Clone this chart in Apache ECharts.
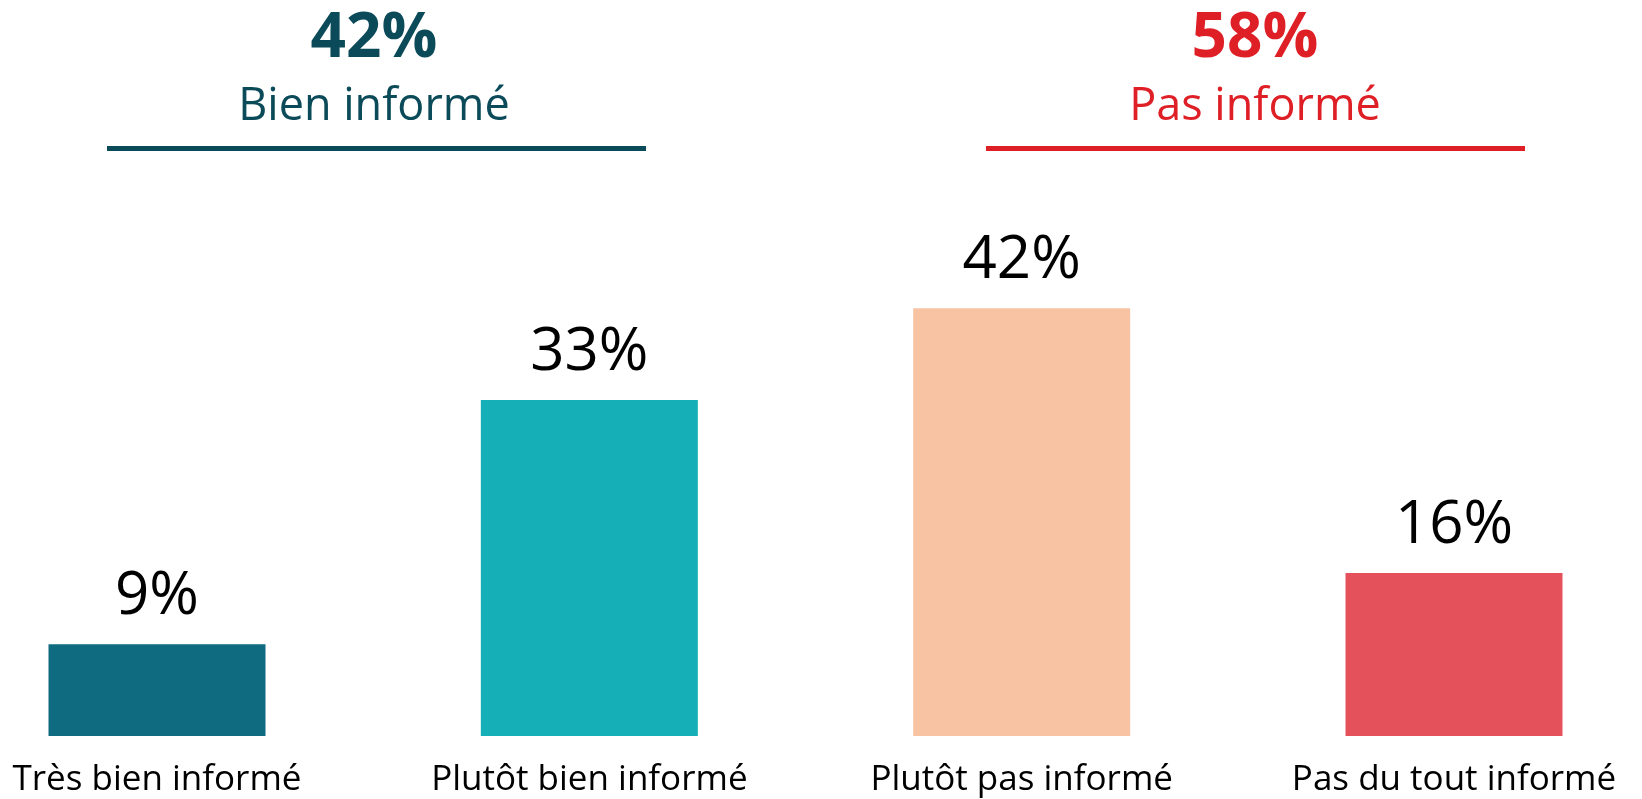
<!DOCTYPE html>
<html>
<head>
<meta charset="utf-8">
<script src="https://cdn.jsdelivr.net/npm/echarts@6/dist/echarts.min.js"></script>
<style>
  html, body { margin: 0; padding: 0; background: #fff; }
  #chart { width: 1642px; height: 799px; }
</style>
</head>
<body>
<div id="chart"></div>
<script>
// data
var categories = ['Très bien informé', 'Plutôt bien informé', 'Plutôt pas informé', 'Pas du tout informé'];
var values = [9, 33, 42, 16];
var barColors = ['#0F6B80', '#14AFB7', '#F7C3A3', '#E5515A'];
var groupValues = ['42%', '58%'];
var groupNames = ['Bien informé', 'Pas informé'];
var groupColors = ['#0B4A58', '#DF1F26'];

var font = '"Open Sans", "Noto Sans", sans-serif';

var chart = echarts.init(document.getElementById('chart'));

var option = {
  backgroundColor: '#ffffff',
  animation: false,
  grid: {
    left: 157,
    right: 188,
    top: 125,
    bottom: 63
  },
  xAxis: {
    type: 'category',
    data: categories,
    boundaryGap: false,
    axisLine: { show: false },
    axisTick: { show: false },
    axisLabel: {
      color: '#000',
      fontSize: 35,
      fontFamily: font,
      margin: 27
    }
  },
  yAxis: {
    type: 'value',
    min: 0,
    max: 60,
    show: false,
    splitLine: { show: false }
  },
  series: [
    {
      type: 'bar',
      barWidth: 217,
      data: values.map(function (v, i) {
        return { value: v, itemStyle: { color: barColors[i] } };
      }),
      label: {
        show: true,
        position: 'top',
        distance: 17,
        color: '#000',
        fontSize: 60,
        fontFamily: font,
        formatter: '{c}%'
      }
    }
  ],
  graphic: [
    // left group header
    {
      type: 'text', x: 374, y: 70,
      style: { text: groupValues[0], fill: groupColors[0], font: 'bold 62px ' + font, textAlign: 'center', textVerticalAlign: 'bottom' }
    },
    {
      type: 'text', x: 374, y: 130,
      style: { text: groupNames[0], fill: groupColors[0], font: '45px ' + font, textAlign: 'center', textVerticalAlign: 'bottom' }
    },
    {
      type: 'rect', shape: { x: 107, y: 146, width: 539, height: 5 },
      style: { fill: groupColors[0] }
    },
    // right group header
    {
      type: 'text', x: 1255, y: 70,
      style: { text: groupValues[1], fill: groupColors[1], font: 'bold 62px ' + font, textAlign: 'center', textVerticalAlign: 'bottom' }
    },
    {
      type: 'text', x: 1255, y: 130,
      style: { text: groupNames[1], fill: groupColors[1], font: '45px ' + font, textAlign: 'center', textVerticalAlign: 'bottom' }
    },
    {
      type: 'rect', shape: { x: 986, y: 146, width: 539, height: 5 },
      style: { fill: groupColors[1] }
    }
  ]
};

chart.setOption(option);
</script>
</body>
</html>
